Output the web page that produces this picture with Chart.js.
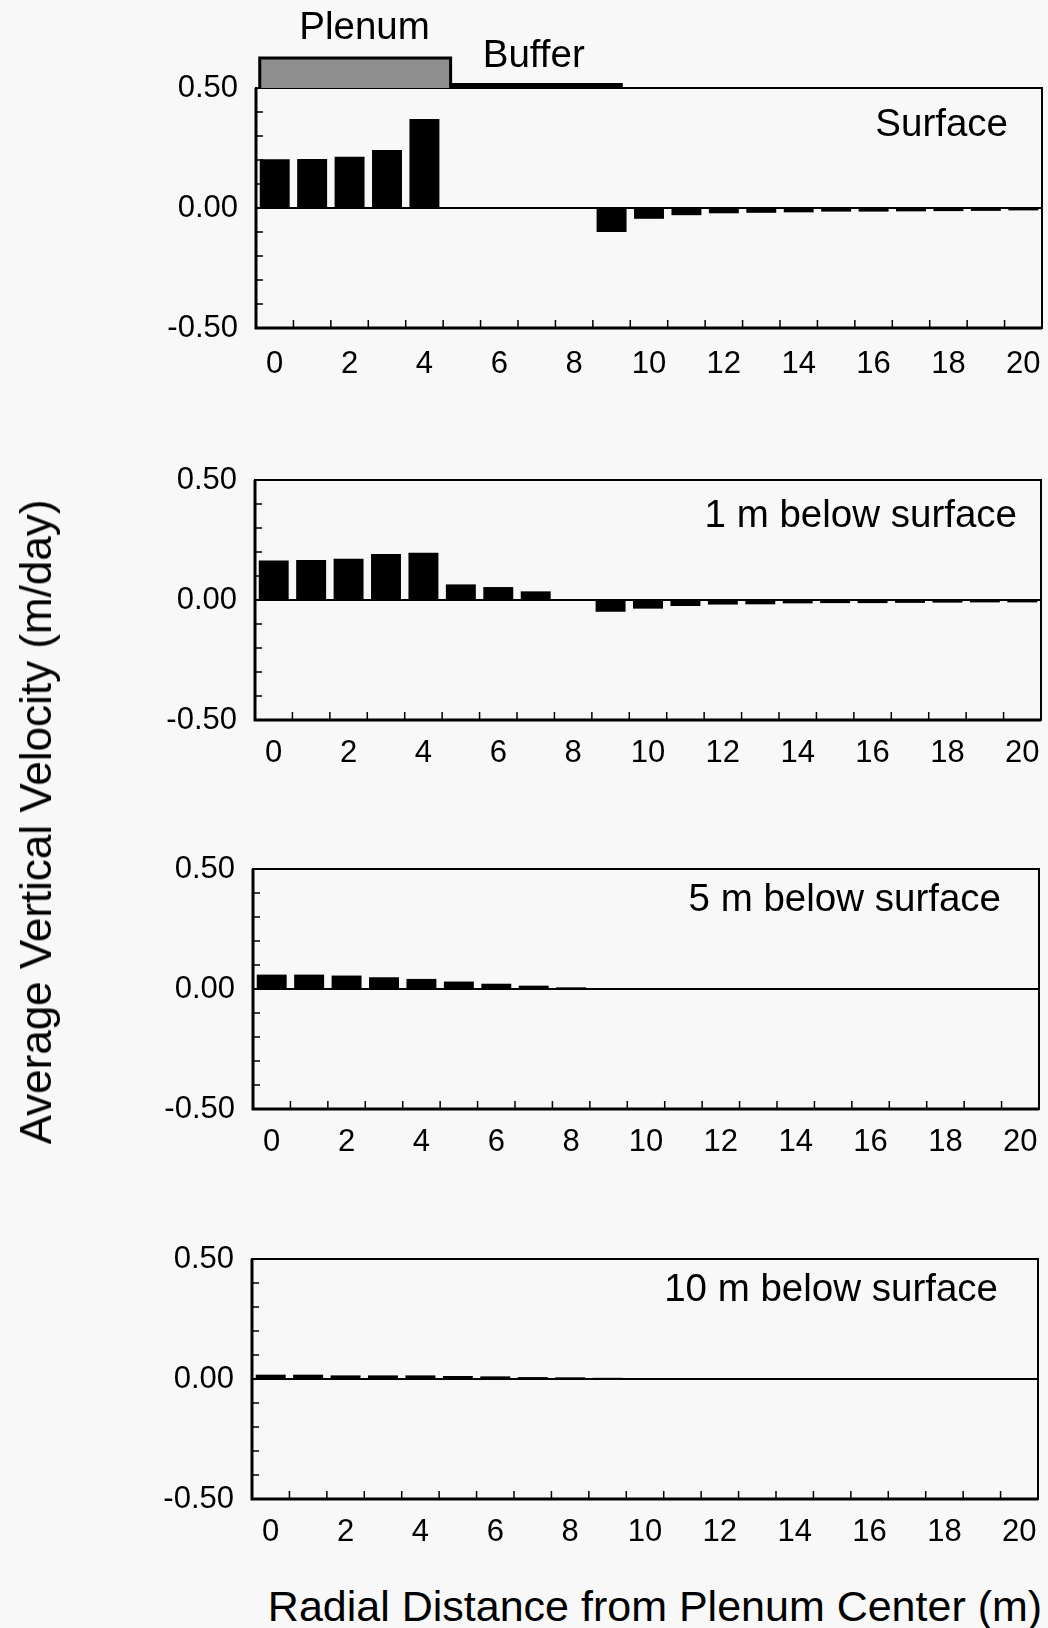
<!DOCTYPE html>
<html>
<head>
<meta charset="utf-8">
<title>Average Vertical Velocity</title>
<script src="https://cdn.jsdelivr.net/npm/chart.js@4.4.0/dist/chart.umd.min.js"></script>
<style>
  html, body { margin: 0; padding: 0; background: #f7f8f7; }
  body { width: 1048px; height: 1628px; position: relative; overflow: hidden;
         font-family: "Liberation Sans", Arial, sans-serif; color: #000; }
  canvas { position: absolute; left: 0; }
  .ytitle { position: absolute; left: 36px; top: 822px; font-size: 44px; white-space: nowrap;
            transform: translate(-50%, -50%) rotate(-90deg); }
  .xtitle { position: absolute; left: 655px; top: 1606px; font-size: 43px; white-space: nowrap;
            transform: translate(-50%, -50%); }
</style>
</head>
<body>
<canvas id="p1" width="1048" height="388" style="top:0px"></canvas>
<canvas id="p2" width="1048" height="340" style="top:440px"></canvas>
<canvas id="p3" width="1048" height="340" style="top:829px"></canvas>
<canvas id="p4" width="1048" height="340" style="top:1219px"></canvas>
<div class="ytitle">Average Vertical Velocity (m/day)</div>
<div class="xtitle">Radial Distance from Plenum Center (m)</div>

<script>
// radial distance (m), one bar per metre
const distances = ["0", "1", "2", "3", "4", "5", "6", "7", "8", "9", "10",
  "11", "12", "13", "14", "15", "16", "17", "18", "19", "20"];

// average vertical velocity (m/day)
const surface = [0.203, 0.204, 0.214, 0.242, 0.371, 0, 0, 0, 0, -0.1, -0.045,
  -0.03, -0.022, -0.02, -0.018, -0.015, -0.015, -0.014, -0.013, -0.012, -0.01];
const below1m = [0.165, 0.167, 0.172, 0.192, 0.197, 0.065, 0.054, 0.036, 0, -0.049, -0.036,
  -0.025, -0.019, -0.018, -0.014, -0.013, -0.013, -0.012, -0.011, -0.01, -0.01];
const below5m = [0.06, 0.06, 0.056, 0.049, 0.042, 0.031, 0.022, 0.014, 0.007, 0.004, 0.002,
  -0.003, -0.003, -0.004, -0.003, -0.003, -0.003, -0.003, -0.003, -0.003, -0.003];
const below10m = [0.018, 0.018, 0.015, 0.015, 0.015, 0.0125, 0.011, 0.008, 0.007, 0.005, 0.003,
  0.002, 0.002, 0.002, 0.002, 0.002, 0.002, 0.002, 0.002, 0.002, 0.002];

const yLabels = [-0.5, 0, 0.5];
// plenum / buffer zone edges (m)
const plenumStart = -0.4;
const plenumEdge = 4.7;
const bufferEdge = 9.3;

const FONT = '"Liberation Sans", Arial, sans-serif';

// frame, inner ticks, panel label and the plenum/buffer header
const framePlugin = {
  id: "frame",
  afterDraw(chart, args, opts) {
    const { ctx, chartArea: a, scales: { x, y } } = chart;
    const step = x.getPixelForValue(1) - x.getPixelForValue(0);
    const px = (u) => x.getPixelForValue(0) + u * step;
    ctx.save();
    ctx.strokeStyle = "#000";
    ctx.fillStyle = "#000";

    ctx.lineWidth = 1.5;
    ctx.beginPath();
    for (let i = 0; i < distances.length - 1; i++) {
      const xx = px(i + 0.5);
      ctx.moveTo(xx, a.bottom);
      ctx.lineTo(xx, a.bottom - 8);
    }
    for (let k = -4; k <= 4; k++) {
      const yy = y.getPixelForValue(k / 10);
      ctx.moveTo(a.left, yy);
      ctx.lineTo(a.left + 7, yy);
    }
    ctx.stroke();

    ctx.lineWidth = 2;
    ctx.strokeRect(a.left, a.top, a.right - a.left, a.bottom - a.top);
    ctx.lineWidth = 3;
    ctx.beginPath();
    ctx.moveTo(a.left, a.top);
    ctx.lineTo(a.left, a.bottom);
    ctx.lineTo(a.right, a.bottom);
    ctx.stroke();

    ctx.font = "38.5px " + FONT;
    ctx.textAlign = "right";
    ctx.textBaseline = "middle";
    ctx.fillText(opts.label, a.right - opts.dx, a.top + opts.dy);

    if (opts.header) {
      const x0 = px(plenumStart), x1 = px(plenumEdge), x2 = px(bufferEdge);
      ctx.fillStyle = "#8e8e8e";
      ctx.fillRect(x0, 58, x1 - x0, a.top - 58);
      ctx.lineWidth = 3;
      ctx.beginPath();
      ctx.moveTo(x0, a.top);
      ctx.lineTo(x0, 58);
      ctx.lineTo(x1, 58);
      ctx.lineTo(x1, a.top);
      ctx.stroke();
      ctx.fillStyle = "#000";
      ctx.fillRect(x1, a.top - 5, x2 - x1, 5);
      ctx.textAlign = "center";
      ctx.fillText("Plenum", px(2.4), 28);
      ctx.fillText("Buffer", (x1 + x2) / 2 - 3, 56);
    }
    ctx.restore();
  }
};

const panels = [
  { id: "p1", label: "Surface", data: surface, canvasTop: 0, top: 88, left: 256, right: 1042, dx: 34, dy: 37, tickGap: 18, header: true },
  { id: "p2", label: "1 m below surface", data: below1m, canvasTop: 440, top: 480, left: 255, right: 1041, dx: 24, dy: 36, tickGap: 15, header: false },
  { id: "p3", label: "5 m below surface", data: below5m, canvasTop: 829, top: 869, left: 253, right: 1039, dx: 38, dy: 31, tickGap: 15, header: false },
  { id: "p4", label: "10 m below surface", data: below10m, canvasTop: 1219, top: 1259, left: 252, right: 1038, dx: 40, dy: 31, tickGap: 15, header: false },
];

panels.forEach((p) => {
  new Chart(document.getElementById(p.id), {
    type: "bar",
    data: {
      labels: distances,
      datasets: [{
        data: p.data,
        backgroundColor: "#000",
        borderWidth: 0,
        barPercentage: 1,
        categoryPercentage: 0.8,
      }],
    },
    options: {
      responsive: false,
      animation: false,
      layout: { padding: { left: 0, right: 1048 - p.right, top: p.top - p.canvasTop, bottom: 0 } },
      plugins: {
        legend: { display: false },
        tooltip: { enabled: false },
        frame: { label: p.label, dx: p.dx, dy: p.dy, header: p.header },
      },
      scales: {
        x: {
          // invisible tick marks give the label gap without widening the side padding
          grid: { display: true, drawOnChartArea: false, drawTicks: true, tickLength: p.tickGap, tickColor: "rgba(0,0,0,0)", color: "rgba(0,0,0,0)" },
          border: { display: false },
          ticks: {
            autoSkip: false,
            maxRotation: 0,
            padding: 0,
            color: "#000",
            font: { family: FONT, size: 31 },
            callback: (v, i) => (i % 2 === 0 ? distances[i] : ""),
          },
          afterFit: (s) => { s.height = 60; },
        },
        y: {
          min: -0.5,
          max: 0.5,
          grid: {
            drawTicks: true,
            tickLength: 18,
            tickColor: "rgba(0,0,0,0)",
            lineWidth: 2,
            color: (c) => (Math.abs(c.tick.value) < 1e-9 ? "#000" : "rgba(0,0,0,0)"),
          },
          border: { display: false },
          ticks: {
            stepSize: 0.1,
            autoSkip: false,
            padding: 0,
            color: "#000",
            font: { family: FONT, size: 31 },
            callback: (v) => {
              if (Math.abs(v) < 1e-9) return "0.00";
              return yLabels.some((t) => Math.abs(t - v) < 1e-9) ? v.toFixed(2) : "";
            },
          },
          afterFit: (s) => { s.width = p.left; },
        },
      },
    },
    plugins: [framePlugin],
  });
});
</script>
</body>
</html>
